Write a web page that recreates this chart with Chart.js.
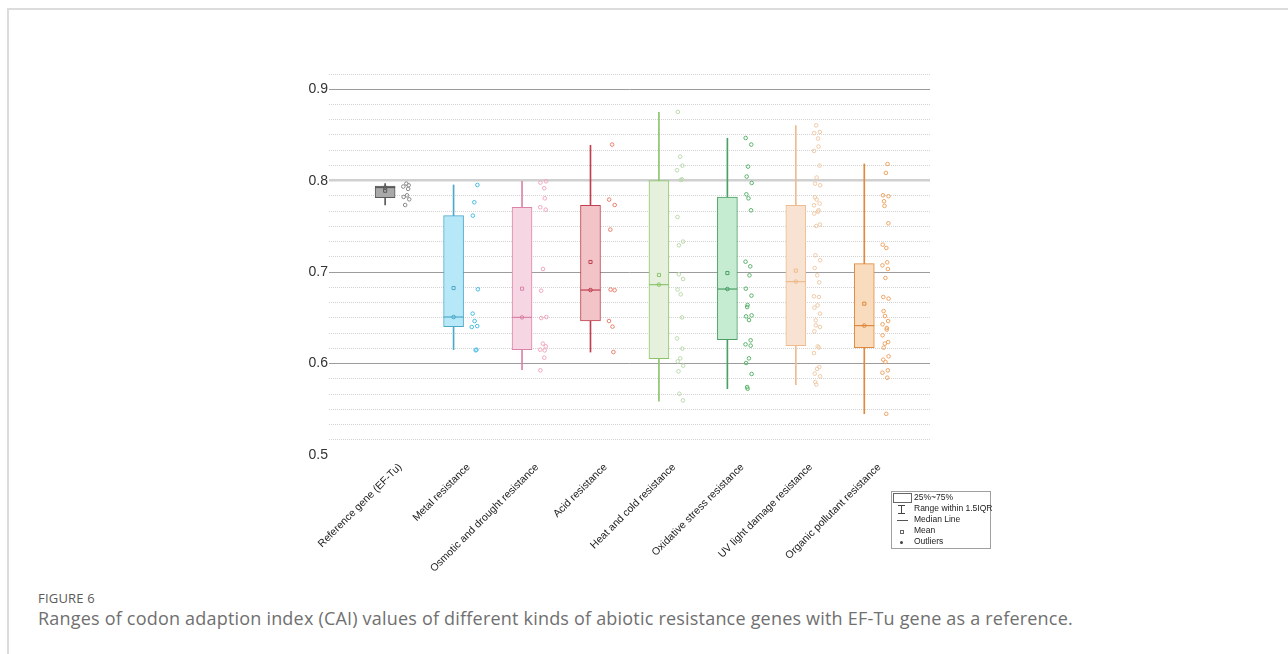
<!DOCTYPE html>
<html>
<head>
<meta charset="utf-8">
<script src="https://cdn.jsdelivr.net/npm/chart.js@4.4.1/dist/chart.umd.min.js"></script>
<style>
  html, body { margin: 0; padding: 0; background: #fff; }
  body { width: 1288px; height: 654px; position: relative; overflow: hidden; font-family: "Liberation Sans", Arial, sans-serif; }
  .frame { position: absolute; left: 7px; top: 8px; right: 0; bottom: 0; border-top: 2px solid #dcdcdc; border-left: 2px solid #dcdcdc; }
  #wrap { position: absolute; left: 0; top: 0; width: 1288px; height: 580px; }
  .legend { position: absolute; left: 891px; top: 491px; width: 98px; height: 56px; border: 1px solid #a0a0a0; background: #fff; font-size: 8.5px; color: #222; }
  .legend .row { position: absolute; left: 22px; height: 11px; line-height: 11px; white-space: nowrap; }
  .legend .ic { position: absolute; }
  .caption-label { position: absolute; left: 38px; top: 589px; font-family: "Open Sans", sans-serif; font-size: 13px; color: #5a5a5a; letter-spacing: 0.2px; }
  .caption { position: absolute; left: 38px; top: 606px; font-family: "Open Sans", sans-serif; font-size: 18px; color: #707070; white-space: nowrap; letter-spacing: 0.2px; }
</style>
</head>
<body>
<div class="frame"></div>
<div id="wrap"><canvas id="cai"></canvas></div>

<div class="legend">
  <div class="ic" style="left:1px;top:1px;width:17px;height:8px;border:1px solid #666;"></div>
  <div class="row" style="top:0px;">25%~75%</div>
  <div class="ic" style="left:9px;top:13px;width:1px;height:9px;background:#444;"></div>
  <div class="ic" style="left:6px;top:13px;width:7px;height:1px;background:#444;"></div>
  <div class="ic" style="left:6px;top:21px;width:7px;height:1px;background:#444;"></div>
  <div class="row" style="top:11px;">Range within 1.5IQR</div>
  <div class="ic" style="left:5px;top:28px;width:11px;height:1px;background:#555;"></div>
  <div class="row" style="top:22px;">Median Line</div>
  <div class="ic" style="left:8px;top:38px;width:2px;height:2px;border:1px solid #666;"></div>
  <div class="row" style="top:33px;">Mean</div>
  <div class="ic" style="left:8px;top:49px;width:3px;height:3px;border-radius:50%;background:#444;"></div>
  <div class="row" style="top:44px;">Outliers</div>
</div>

<div class="caption-label">FIGURE 6</div>
<div class="caption">Ranges of codon adaption index (CAI) values of different kinds of abiotic resistance genes with EF-Tu gene as a reference.</div>

<script>
// categories and box statistics (CAI)
const categories = [
  'Reference gene (EF-Tu)', 'Metal resistance', 'Osmotic and drought resistance', 'Acid resistance',
  'Heat and cold resistance', 'Oxidative stress resistance', 'UV light damage resistance', 'Organic pollutant resistance'
];
const q1 = [0.7815, 0.6404, 0.6152, 0.6465, 0.6053, 0.6262, 0.6196, 0.6174];
const q3 = [0.7942, 0.7618, 0.7709, 0.7731, 0.8001, 0.7822, 0.7731, 0.7093];
const medians = [0.7925, 0.6509, 0.6505, 0.6804, 0.6863, 0.6815, 0.6896, 0.6415];
const means = [0.7890, 0.6826, 0.6819, 0.7111, 0.6969, 0.6990, 0.7016, 0.6655];
const whiskerLow = [0.7734, 0.6152, 0.5933, 0.6126, 0.5590, 0.5725, 0.5769, 0.5452];
const whiskerHigh = [0.7968, 0.7953, 0.7993, 0.8387, 0.8748, 0.8464, 0.8603, 0.8183];

// individual gene values
const refPoints = [0.7968, 0.7950, 0.7936, 0.7910, 0.7840, 0.7822, 0.7796, 0.7734];
const metalPoints = [0.7953, 0.7764, 0.7618, 0.6812, 0.6546, 0.6465, 0.6410, 0.6400, 0.6152, 0.6145];
const osmoticPoints = [0.7993, 0.7979, 0.7917, 0.7807, 0.7709, 0.7683, 0.7034, 0.6797, 0.6509, 0.6498,
  0.6218, 0.6188, 0.6152, 0.6144, 0.6064, 0.5926];
const acidPoints = [0.8395, 0.7793, 0.7734, 0.7465, 0.6809, 0.6802, 0.6465, 0.6404, 0.6126];
const heatPoints = [0.8752, 0.8263, 0.8165, 0.8114, 0.8015, 0.8008, 0.7603, 0.7334, 0.7293, 0.6976, 0.6925,
  0.6809, 0.6757, 0.6505, 0.6275, 0.6163, 0.6057, 0.6024, 0.5977, 0.5915, 0.5670, 0.5597];
const oxidativePoints = [0.8467, 0.8395, 0.8154, 0.8045, 0.7975, 0.7851, 0.7807, 0.7676, 0.7114, 0.7063,
  0.6965, 0.6819, 0.6743, 0.6640, 0.6618, 0.6527, 0.6516, 0.6476, 0.6254, 0.6210, 0.6196, 0.6057, 0.6006,
  0.5886, 0.5743, 0.5725];
const uvPoints = [0.8605, 0.8533, 0.8520, 0.8461, 0.8373, 0.8325, 0.8165, 0.8034, 0.7968, 0.7950, 0.7818,
  0.7793, 0.7750, 0.7731, 0.7676, 0.7661, 0.7640, 0.7520, 0.7505, 0.7184, 0.7130, 0.7045, 0.6965, 0.6888,
  0.6735, 0.6728, 0.6637, 0.6612, 0.6546, 0.6472, 0.6418, 0.6400, 0.6353, 0.6188, 0.6175, 0.6115, 0.5962,
  0.5942, 0.5890, 0.5860, 0.5798, 0.5770];
const organicPoints = [0.8183, 0.8085, 0.7840, 0.7830, 0.7775, 0.7724, 0.7534, 0.7300, 0.7264, 0.7107,
  0.7074, 0.7034, 0.6936, 0.6728, 0.6710, 0.6574, 0.6520, 0.6465, 0.6429, 0.6389, 0.6371, 0.6309, 0.6235,
  0.6218, 0.6174, 0.6079, 0.6043, 0.6017, 0.5926, 0.5900, 0.5845, 0.5450];
const pointGroups = [refPoints, metalPoints, osmoticPoints, acidPoints, heatPoints, oxidativePoints, uvPoints, organicPoints];

// y ticks: labelled every 0.1, minor dotted lines every 1/60
const yMajor = [0.5, 0.6, 0.7, 0.8, 0.9];

// styles
const boxFill = ['#a9a9a9', '#b6e8f8', '#f6d6e3', '#f2c3c7', '#e6f1dd', '#c5ecd1', '#f8e3d3', '#f9dbbd'];
const boxLine = ['#5a5a5a', '#4ea9c9', '#db83a8', '#c0404f', '#8cc46c', '#4b9e66', '#efbb8e', '#df8a3e'];
const dotColor = ['#8a8a8a', '#49bde6', '#f2a6bc', '#e8806f', '#bcd9ad', '#5bb46d', '#efcaa8', '#efa463'];

const jitter = (i, j) => i + 0.31 + 0.045 * Math.sin(j * 2.3 + i);

const datasets = [];
pointGroups.forEach((pts, i) => {
  datasets.push({
    type: 'scatter',
    data: pts.map((v, j) => ({ x: jitter(i, j), y: v })),
    pointStyle: 'circle',
    pointRadius: 1.8,
    pointBorderWidth: 1,
    pointBorderColor: dotColor[i],
    pointBackgroundColor: 'rgba(255,255,255,0)',
    order: 1
  });
});
datasets.push({
  type: 'scatter',
  data: means.map((v, i) => ({ x: i, y: v })),
  pointStyle: 'rect',
  pointRadius: 2.2,
  pointBorderWidth: 1,
  pointBorderColor: boxLine,
  pointBackgroundColor: 'rgba(255,255,255,0)',
  order: 0
});
datasets.push({
  type: 'scatter',
  data: medians.map((v, i) => ({ x: i, y: v })),
  pointStyle: 'line',
  pointRadius: 10,
  pointBorderWidth: 1.2,
  pointBorderColor: boxLine,
  order: 0
});
datasets.push({
  type: 'scatter',
  data: medians.map((v, i) => ({ x: i, y: v })),
  pointStyle: 'circle',
  pointRadius: 1.8,
  pointBorderWidth: 1,
  pointBorderColor: boxLine,
  pointBackgroundColor: 'rgba(255,255,255,0)',
  order: 0
});
datasets.push({
  type: 'bar',
  data: q1.map((v, i) => ({ x: i, y: [v, q3[i]] })),
  backgroundColor: boxFill,
  borderColor: boxLine,
  borderWidth: 1,
  borderSkipped: false,
  barThickness: 20,
  grouped: false,
  order: 2
});
datasets.push({
  type: 'bar',
  data: whiskerLow.map((v, i) => ({ x: i, y: [v, whiskerHigh[i]] })),
  backgroundColor: boxLine,
  borderWidth: 0,
  barThickness: 1,
  grouped: false,
  order: 3
});

const minorIndex = v => Math.round((v - 0.5) * 60);

new Chart(document.getElementById('cai'), {
  type: 'bar',
  data: { datasets },
  options: {
    responsive: true,
    maintainAspectRatio: false,
    animation: false,
    layout: { padding: { left: 0, right: 358, top: 74, bottom: 0 } },
    plugins: { legend: { display: false }, tooltip: { enabled: false } },
    scales: {
      x: {
        type: 'linear',
        offset: false,
        min: -0.82,
        max: 7.96,
        grid: { display: false, drawTicks: false, offset: false },
        border: { display: false },
        afterBuildTicks: axis => { axis.ticks = categories.map((c, i) => ({ value: i + 0.22 })); },
        afterFit: axis => { axis.height = 125; },
        ticks: {
          autoSkip: false,
          minRotation: 45,
          maxRotation: 45,
          padding: 6,
          color: '#222',
          font: { family: "'Liberation Sans', Arial", size: 10.5 },
          callback: (v, idx) => categories[idx]
        }
      },
      y: {
        min: 0.5,
        max: 0.5 + 25 / 60,
        afterBuildTicks: axis => {
          const t = [];
          for (let k = 0; k <= 25; k++) t.push({ value: 0.5 + k / 60 });
          axis.ticks = t;
        },
        afterFit: axis => { axis.width = 329; },
        grid: {
          drawTicks: false,
          color: ctx => {
            const k = minorIndex(ctx.tick.value);
            if (k === 0) return 'rgba(0,0,0,0)';
            if (k === 18) return '#d0d0d0';
            return k % 6 === 0 ? '#9c9c9c' : '#d2d2d2';
          },
          lineWidth: ctx => (minorIndex(ctx.tick.value) === 18 ? 2.5 : 1)
        },
        border: {
          display: false,
          dash: ctx => (minorIndex(ctx.tick.value) % 6 === 0 ? [] : [1, 1])
        },
        ticks: {
          autoSkip: false,
          padding: 1,
          color: '#333',
          font: { family: "'Liberation Sans', Arial", size: 14 },
          callback: v => {
            const k = minorIndex(v);
            return k % 6 === 0 ? yMajor[k / 6].toFixed(1) : '';
          }
        }
      }
    }
  }
});
</script>
</body>
</html>
